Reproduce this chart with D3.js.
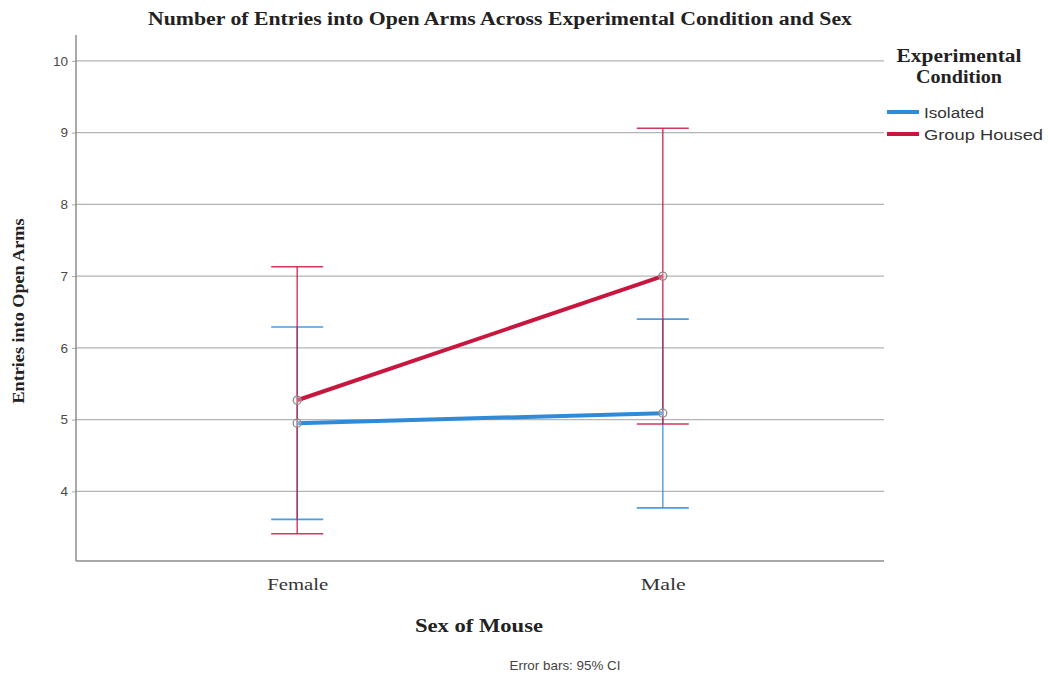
<!DOCTYPE html>
<html>
<head>
<meta charset="utf-8">
<script src="https://cdn.jsdelivr.net/npm/d3@7"></script>
<style>
  html, body { margin: 0; padding: 0; background: #fff; }
  svg { display: block; }
</style>
</head>
<body>
<svg id="chart" width="1048" height="681"></svg>
<script>
// Sex categories on the x axis
const sexes = ["Female", "Male"];
// Experimental conditions (series)
const conditions = ["Isolated", "Group Housed"];
// Mean entries into open arms, per condition, ordered as sexes
const isolatedMean = [4.95, 5.09];
const groupMean = [5.27, 7.0];
// 95% confidence interval bounds
const isolatedLow = [3.61, 3.77];
const isolatedHigh = [6.29, 6.40];
const groupLow = [3.41, 4.94];
const groupHigh = [7.13, 9.06];
// Y tick values
const yTicks = [4, 5, 6, 7, 8, 9, 10];

const colors = { "Isolated": "#2f8bd8", "Group Housed": "#c8173f" };

const series = [
  { name: "Isolated", mean: isolatedMean, low: isolatedLow, high: isolatedHigh },
  { name: "Group Housed", mean: groupMean, low: groupLow, high: groupHigh }
];

const svg = d3.select("#chart");
const plot = { left: 76, right: 884, top: 35, bottom: 561 };

const x = d3.scalePoint().domain(sexes).range([plot.left, plot.right]).padding(0.605);
const y = d3.scaleLinear().domain([3.03, 10.36]).range([plot.bottom, plot.top]);

const serif = "'Liberation Serif', 'Times New Roman', serif";
const sans = "'Liberation Sans', Arial, sans-serif";

// Text helper with a fixed rendered width
function label(sel, len) {
  return sel.attr("textLength", len).attr("lengthAdjust", "spacingAndGlyphs");
}

// Title
label(svg.append("text")
  .attr("x", 500).attr("y", 25)
  .attr("text-anchor", "middle")
  .attr("font-family", serif).attr("font-weight", "bold")
  .attr("font-size", 18.5).attr("fill", "#222")
  .text("Number of Entries into Open Arms Across Experimental Condition and Sex"), 704);

// Grid lines
svg.append("g")
  .selectAll("line").data(yTicks).join("line")
  .attr("x1", plot.left).attr("x2", plot.right)
  .attr("y1", d => y(d)).attr("y2", d => y(d))
  .attr("stroke", "#b4b4b4").attr("stroke-width", 1.2);

// Y axis
const yAxis = svg.append("g")
  .attr("transform", `translate(${plot.left},0)`)
  .call(d3.axisLeft(y).tickValues(yTicks).tickSize(4).tickFormat(d3.format("d")));
yAxis.select(".domain").remove();
yAxis.selectAll(".tick line").attr("stroke", "#aaa");
yAxis.selectAll(".tick text")
  .attr("font-family", sans).attr("font-size", 13.5).attr("fill", "#4a4a4a").attr("x", -8);

// X axis
const xAxis = svg.append("g")
  .attr("transform", `translate(0,${plot.bottom})`)
  .call(d3.axisBottom(x).tickSize(0).tickPadding(17));
xAxis.select(".domain").remove();
xAxis.selectAll(".tick text")
  .attr("font-family", serif).attr("font-size", 17).attr("fill", "#333")
  .attr("textLength", d => d === "Female" ? 61 : 45)
  .attr("lengthAdjust", "spacingAndGlyphs");

// Axis lines
svg.append("line")
  .attr("x1", plot.left).attr("x2", plot.left)
  .attr("y1", plot.top).attr("y2", plot.bottom)
  .attr("stroke", "#8c8c8c").attr("stroke-width", 1.5);
svg.append("line")
  .attr("x1", plot.left).attr("x2", plot.right)
  .attr("y1", plot.bottom).attr("y2", plot.bottom)
  .attr("stroke", "#8c8c8c").attr("stroke-width", 1.5);

// Axis titles
label(svg.append("text")
  .attr("transform", `translate(24,${311}) rotate(-90)`)
  .attr("text-anchor", "middle")
  .attr("font-family", serif).attr("font-weight", "bold")
  .attr("font-size", 16).attr("fill", "#222")
  .text("Entries into Open Arms"), 185);

label(svg.append("text")
  .attr("x", 479).attr("y", 632)
  .attr("text-anchor", "middle")
  .attr("font-family", serif).attr("font-weight", "bold")
  .attr("font-size", 18.5).attr("fill", "#222")
  .text("Sex of Mouse"), 128);

label(svg.append("text")
  .attr("x", 565).attr("y", 670)
  .attr("text-anchor", "middle")
  .attr("font-family", sans).attr("font-size", 13.5).attr("fill", "#444")
  .text("Error bars: 95% CI"), 111);

// Error bars
const capHalf = 26;
const eb = svg.append("g");
series.forEach(s => {
  const g = eb.append("g");
  sexes.forEach((sex, i) => {
    const cx = x(sex);
    g.append("line")
      .attr("x1", cx).attr("x2", cx)
      .attr("y1", y(s.low[i])).attr("y2", y(s.high[i]))
      .attr("stroke", colors[s.name]).attr("stroke-width", 1.6).attr("opacity", 0.75);
    [s.low[i], s.high[i]].forEach(v => {
      g.append("line")
        .attr("x1", cx - capHalf).attr("x2", cx + capHalf)
        .attr("y1", y(v)).attr("y2", y(v))
        .attr("stroke", colors[s.name]).attr("stroke-width", 1.6).attr("opacity", 0.85);
    });
  });
});

// Mean lines
const line = d3.line().x((d, i) => x(sexes[i])).y(d => y(d));
series.forEach(s => {
  svg.append("path")
    .datum(s.mean)
    .attr("d", line)
    .attr("fill", "none")
    .attr("stroke", colors[s.name])
    .attr("stroke-width", 4);
});

// Mean markers
series.forEach(s => {
  svg.append("g").selectAll("circle").data(s.mean).join("circle")
    .attr("cx", (d, i) => x(sexes[i])).attr("cy", d => y(d))
    .attr("r", 4)
    .attr("fill", "rgba(255,255,255,0.3)")
    .attr("stroke", "#8a8a8a").attr("stroke-width", 1.3);
});

// Legend
const lg = svg.append("g");
const legendTitle = [["Experimental", 125], ["Condition", 86]];
legendTitle.forEach(([t, len], i) => {
  label(lg.append("text")
    .attr("x", 959).attr("y", 62 + i * 21)
    .attr("text-anchor", "middle")
    .attr("font-family", serif).attr("font-weight", "bold")
    .attr("font-size", 18).attr("fill", "#222")
    .text(t), len);
});

const legendLen = { "Isolated": 60, "Group Housed": 119 };
conditions.forEach((c, i) => {
  const ly = 112 + i * 22;
  lg.append("line")
    .attr("x1", 887).attr("x2", 919)
    .attr("y1", ly).attr("y2", ly)
    .attr("stroke", colors[c]).attr("stroke-width", 4);
  label(lg.append("text")
    .attr("x", 924).attr("y", ly + 6)
    .attr("font-family", sans).attr("font-size", 15.5).attr("fill", "#333")
    .text(c), legendLen[c]);
});
</script>
</body>
</html>
